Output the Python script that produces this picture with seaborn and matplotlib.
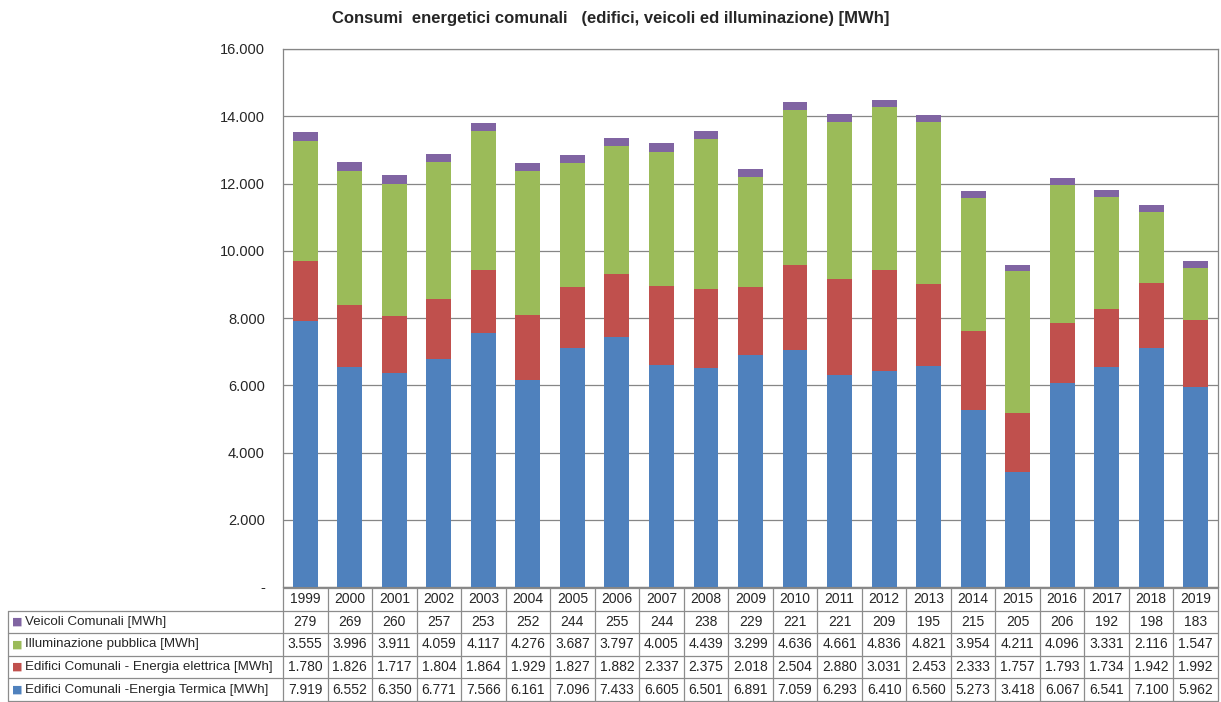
import numpy as np
import pandas as pd
import seaborn as sns
import matplotlib.pyplot as plt
from matplotlib.ticker import FuncFormatter

years = [str(y) for y in range(1999, 2020)]

veicoli = [279, 269, 260, 257, 253, 252, 244, 255, 244, 238, 229, 221, 221, 209, 195, 215, 205, 206, 192, 198, 183]
illuminazione = [3555, 3996, 3911, 4059, 4117, 4276, 3687, 3797, 4005, 4439, 3299, 4636, 4661, 4836, 4821, 3954, 4211, 4096, 3331, 2116, 1547]
elettrica = [1780, 1826, 1717, 1804, 1864, 1929, 1827, 1882, 2337, 2375, 2018, 2504, 2880, 3031, 2453, 2333, 1757, 1793, 1734, 1942, 1992]
termica = [7919, 6552, 6350, 6771, 7566, 6161, 7096, 7433, 6605, 6501, 6891, 7059, 6293, 6410, 6560, 5273, 3418, 6067, 6541, 7100, 5962]

labels = ["Veicoli Comunali [MWh]",
          "Illuminazione pubblica [MWh]",
          "Edifici Comunali - Energia elettrica [MWh]",
          "Edifici Comunali -Energia Termica [MWh]"]
colors = ["#8064A2", "#9BBB59", "#C0504D", "#4F81BD"]

sns.set_style("white")
plt.rcParams['font.family'] = ['Liberation Sans', 'DejaVu Sans']

df = pd.DataFrame({"anno": years, "termica": termica, "elettrica": elettrica,
                   "illuminazione": illuminazione, "veicoli": veicoli})

fig = plt.figure(figsize=(12.21, 7.02), dpi=100)
ax = fig.add_axes([283 / 1221, 1 - 587 / 702, 935 / 1221, 538 / 702])

bottom = np.zeros(len(years))
for col, c in zip(["termica", "elettrica", "illuminazione", "veicoli"], colors[::-1]):
    sns.barplot(data=df, x="anno", y=col, bottom=bottom, color=c, saturation=1,
                width=0.56, ax=ax, zorder=3, linewidth=0)
    bottom = bottom + df[col].values

n = len(years)
ax.set_xlim(-0.5, n - 0.5)
ax.set_ylim(0, 16000)
ax.set_yticks(range(0, 16001, 2000))
ax.yaxis.set_major_formatter(FuncFormatter(
    lambda v, p: '-' if v == 0 else f'{v:,.0f}'.replace(',', '.')))
ax.tick_params(axis='y', length=0, pad=13, labelsize=10.5)
ax.set_xticks([])
ax.set_xlabel("")
ax.set_ylabel("")
ax.grid(axis='y', color='#868686', linewidth=0.9, zorder=0)
for s in ax.spines.values():
    s.set_color('#868686')
    s.set_linewidth(0.9)

fig.text(0.5, 1 - 18 / 702, "Consumi  energetici comunali   (edifici, veicoli ed illuminazione) [MWh]",
         ha='center', va='center', fontsize=12, fontweight='bold')

# data table below the chart (axes coordinates)
fmt = lambda v: f'{v:,.0f}'.replace(',', '.')
rows = [veicoli, illuminazione, elettrica, termica]
row_px = np.linspace(588, 701, 6)
ry = (587 - row_px) / 538
lab_x0 = -275 / 935
lc = '#8c8c8c'
kw = dict(transform=ax.transAxes, clip_on=False, color=lc, linewidth=0.9)

# horizontal lines
ax.plot([0, 1], [ry[0], ry[0]], **kw)
for y in ry[1:]:
    ax.plot([lab_x0, 1], [y, y], **kw)
# vertical lines
for i in range(n + 1):
    ax.plot([i / n, i / n], [ry[0], ry[-1]], **kw)
ax.plot([lab_x0, lab_x0], [ry[1], ry[-1]], **kw)

for i, yr in enumerate(years):
    ax.text((i + 0.5) / n, (ry[0] + ry[1]) / 2, yr, transform=ax.transAxes,
            ha='center', va='center', fontsize=10)
for j, (lab, vals, c) in enumerate(zip(labels, rows, colors)):
    yc = (ry[j + 1] + ry[j + 2]) / 2
    ax.text(lab_x0 + 17 / 935, yc, lab, transform=ax.transAxes,
            ha='left', va='center', fontsize=9.6)
    ax.text(lab_x0 + 4 / 935, yc, "■", transform=ax.transAxes, color=c,
            ha='left', va='center', fontsize=8, family='DejaVu Sans')
    for i, v in enumerate(vals):
        ax.text((i + 0.5) / n, yc, fmt(v), transform=ax.transAxes,
                ha='center', va='center', fontsize=10)

fig.savefig("out.png", dpi=100)
